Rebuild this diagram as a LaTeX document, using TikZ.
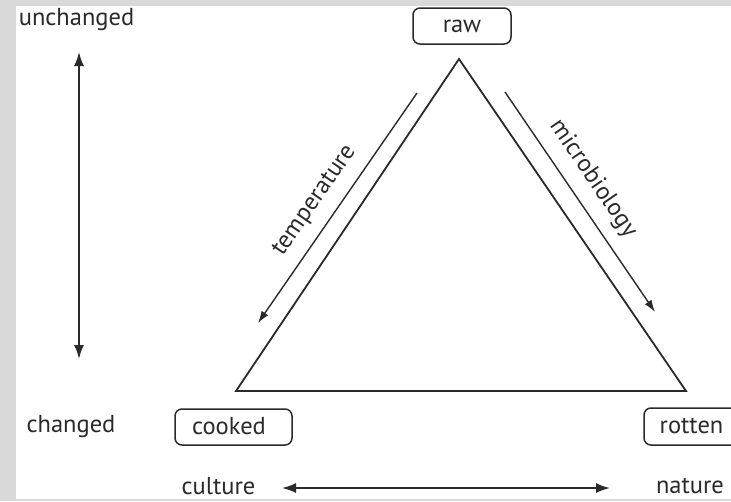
\documentclass[tikz,border=0pt]{standalone}
\usepackage{fontspec}
\setmainfont{PT Sans}
\usetikzlibrary{arrows.meta}
\definecolor{frame}{HTML}{D9D9D9}
\definecolor{ink}{HTML}{2A2A2A}
\tikzset{
  lbl/.style={font=\fontsize{24.5}{28}\selectfont, text=ink, inner sep=0pt},
  boxnode/.style={draw=ink, line width=1.5pt, rounded corners=7pt, font=\fontsize{24.5}{28}\selectfont, text=ink, inner sep=0pt},
  arr/.style={draw=ink, line width=1.4pt, -{Latex[length=12pt,width=8pt]}},
  darr/.style={draw=ink, line width=1.8pt, {Latex[length=14pt,width=10pt]}-{Latex[length=14pt,width=10pt]}},
  tri/.style={draw=ink, line width=1.8pt}
}
\begin{document}
\begin{tikzpicture}[x=1pt,y=-1pt]
\useasboundingbox (0,0) rectangle (731,501);
\fill[frame] (0,0) rectangle (731,501);
\fill[white] (16,6) rectangle (731,499);
% nodes
\node[boxnode, minimum width=98pt, minimum height=36pt] (raw) at (462,26) {raw};
\node[boxnode, minimum width=117pt, minimum height=36pt] (cooked) at (233.5,427) {};
\node[lbl] (cookedtxt) at (229,426) {cooked};
\draw[draw=ink, line width=1.5pt, rounded corners=7pt] (732,408) -- (644,408) -- (644,445) -- (732,445);
\node[lbl] (rottentxt) at (691.5,426) {rotten};
\coordinate (A) at (459,59);
\coordinate (B) at (236,391);
\coordinate (C) at (686,391);
\draw[tri, line join=miter] (A) -- (B) -- (C) -- cycle;
% direction arrows along sides
\coordinate (t1) at (417,93);
\coordinate (t2) at (258,323);
\draw[arr] (t1) -- (t2);
\node[lbl, rotate=55.3] (temp) at (315,201) {temperature};
\coordinate (m1) at (505,92);
\coordinate (m2) at (655,312);
\draw[arr] (m1) -- (m2);
\node[lbl, rotate=-55.7] (micro) at (593,179) {microbiology};
% axis labels
\node[lbl] (unch) at (76.5,20) {unchanged};
\node[lbl] (chg) at (71,427) {changed};
\node[lbl] (cult) at (218.5,486.5) {culture};
\node[lbl] (nat) at (690,486.5) {nature};
\coordinate (v1) at (79,52);
\coordinate (v2) at (79,359);
\draw[darr] (v1) -- (v2);
\coordinate (h1) at (282,488);
\coordinate (h2) at (610,488);
\draw[darr] (h1) -- (h2);
\end{tikzpicture}
\end{document}
